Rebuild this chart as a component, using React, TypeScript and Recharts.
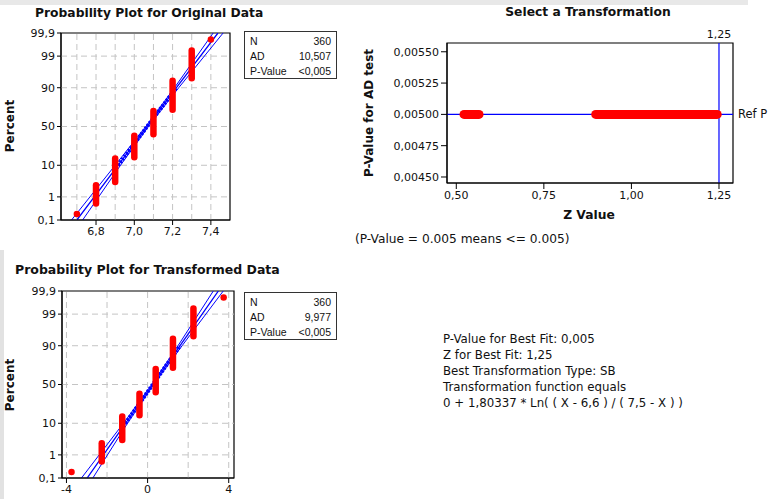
import React from 'react'
import { ComposedChart, Line, XAxis, YAxis, ReferenceLine, ReferenceArea } from 'recharts'

// distinct values in the sample (recorded to 0.1) and the same values after the SB transform
const origValues = [6.7, 6.8, 6.9, 7.0, 7.1, 7.2, 7.3, 7.4]
const transValues = [-3.75, -2.26, -1.25, -0.4, 0.4, 1.25, 2.26, 3.75]
// lowest / highest plotting position (percent) of each stack of tied points
const stackLow = [0.19, 0.55, 3.3, 15.5, 40, 71, 94.5, 99.8]
const stackHigh = [0.19, 2.6, 14.5, 38, 69.5, 93.5, 99.4, 99.8]

// fitted normal line and its confidence band, read at these percents
const fitPct = [0.1, 10, 50, 90, 99.9]
const origFit = [6.7, 6.915, 7.067, 7.22, 7.437]
const origLower = [6.672, 6.9, 7.06, 7.21, 7.412]
const origUpper = [6.73, 6.928, 7.074, 7.232, 7.464]
const transFit = [-2.98, -1.09, 0.255, 1.6, 3.49]
const transLower = [-3.26, -1.19, 0.205, 1.5, 3.24]
const transUpper = [-2.7, -0.99, 0.305, 1.7, 3.73]

const pctTicks = [0.1, 1, 10, 50, 90, 99, 99.9]
const pctGrid = [1, 10, 50, 90, 99]
const origTicks = [6.8, 7.0, 7.2, 7.4]
const origGrid = [6.7, 6.8, 6.9, 7.0, 7.1, 7.2, 7.3, 7.4]
const transTicks = [-4, 0, 4]
const transGrid = [-4, -2, 0, 2, 4]

// Z values whose AD p-value sits at the 0.005 floor
const zRanges = [[0.522, 0.565], [0.898, 1.245]]
const refP = 0.005
const bestZ = 1.25
const zTicks = [0.5, 0.75, 1.0, 1.25]
const pTicks = [0.0045, 0.00475, 0.005, 0.00525, 0.0055]

// inverse normal cdf (Acklam), used for the probability scale
function probit(p: number) {
  const a = [-39.69683028665376, 220.9460984245205, -275.9285104469687, 138.357751867269, -30.66479806614716, 2.506628277459239]
  const b = [-54.47609879822406, 161.5858368580409, -155.6989798598866, 66.80131188771972, -13.28068155288572]
  const c = [-0.007784894002430293, -0.3223964580411365, -2.400758277161838, -2.549732539343734, 4.374664141464968, 2.938163982698783]
  const d = [0.007784695709041462, 0.3224671290700398, 2.445134137142996, 3.754408661907416]
  const pl = 0.02425
  if (p < pl) {
    const q = Math.sqrt(-2 * Math.log(p))
    return (((((c[0] * q + c[1]) * q + c[2]) * q + c[3]) * q + c[4]) * q + c[5]) / ((((d[0] * q + d[1]) * q + d[2]) * q + d[3]) * q + 1)
  }
  if (p > 1 - pl) {
    const q = Math.sqrt(-2 * Math.log(1 - p))
    return -(((((c[0] * q + c[1]) * q + c[2]) * q + c[3]) * q + c[4]) * q + c[5]) / ((((d[0] * q + d[1]) * q + d[2]) * q + d[3]) * q + 1)
  }
  const q = p - 0.5
  const r = q * q
  return (((((a[0] * r + a[1]) * r + a[2]) * r + a[3]) * r + a[4]) * r + a[5]) * q / (((((b[0] * r + b[1]) * r + b[2]) * r + b[3]) * r + b[4]) * r + 1)
}
const zOf = (pct: number) => probit(pct / 100)
const comma = (s: string) => s.replace('.', ',')

const FONT = '"DejaVu Sans", Verdana, sans-serif'
const BLUE = '#0000ff'
const RED = '#ff0000'
const tickStyle = { fontSize: 11, fill: '#111', fontFamily: FONT }

interface ProbPlotProps {
  left: number
  top: number
  width: number
  height: number
  margin: { top: number; right: number; bottom: number; left: number }
  xDomain: [number, number]
  xTicks: number[]
  xGrid: number[]
  xFormat: (v: number) => string
  xs: number[]
  fit: number[]
  lower: number[]
  upper: number[]
}

function ProbPlot(p: ProbPlotProps) {
  const yDomain: [number, number] = [zOf(0.1), zOf(99.9)]
  const pctLabel = (v: number) => {
    const hit = pctTicks.find((t) => Math.abs(zOf(t) - v) < 1e-6)
    return hit === undefined ? '' : comma(String(hit))
  }
  const band = (xs: number[]) => fitPct.map((pc, i) => ({ x: xs[i], y: zOf(pc) }))
  return (
    <div style={{ position: 'absolute', left: p.left, top: p.top }}>
      <ComposedChart width={p.width} height={p.height} margin={p.margin}>
        <XAxis
          type="number"
          dataKey="x"
          domain={p.xDomain}
          allowDataOverflow
          ticks={p.xTicks}
          interval={0}
          tickFormatter={p.xFormat}
          tick={tickStyle}
          tickSize={5}
          height={20}
          stroke="#000"
        />
        <YAxis
          type="number"
          dataKey="y"
          domain={yDomain}
          allowDataOverflow
          ticks={pctTicks.map(zOf)}
          interval={0}
          tickFormatter={pctLabel}
          tick={tickStyle}
          tickSize={4}
          width={40}
          stroke="#000"
        />
        {p.xGrid.map((g) => (
          <ReferenceLine key={'gx' + g} x={g} stroke="#c4c4c4" strokeDasharray="6 4" />
        ))}
        {pctGrid.map((g) => (
          <ReferenceLine key={'gy' + g} y={zOf(g)} stroke="#c4c4c4" strokeDasharray="6 4" />
        ))}
        <Line data={band(p.lower)} dataKey="y" stroke={BLUE} strokeWidth={1} dot={false} isAnimationActive={false} />
        <Line data={band(p.upper)} dataKey="y" stroke={BLUE} strokeWidth={1} dot={false} isAnimationActive={false} />
        <Line data={band(p.fit)} dataKey="y" stroke={BLUE} strokeWidth={1.3} dot={false} isAnimationActive={false} />
        <Line data={band(p.fit).slice(1, 4)} dataKey="y" stroke={BLUE} strokeWidth={4} strokeDasharray="2 1.5" dot={false} isAnimationActive={false} />
        {p.xs.map((x, i) => (
          <Line
            key={'s' + i}
            data={[
              { x, y: zOf(stackLow[i]) },
              { x, y: zOf(stackHigh[i]) + 1e-4 },
            ]}
            dataKey="y"
            stroke={RED}
            strokeWidth={6.5}
            strokeLinecap="round"
            dot={false}
            isAnimationActive={false}
          />
        ))}
        <ReferenceArea x1={p.xDomain[0]} x2={p.xDomain[1]} y1={yDomain[0]} y2={yDomain[1]} fill="none" fillOpacity={0} stroke="#000" strokeWidth={1.2} />
      </ComposedChart>
    </div>
  )
}

function StatsBox({ left, top, ad }: { left: number; top: number; ad: string }) {
  const row = { display: 'flex', justifyContent: 'space-between', height: 15, lineHeight: '15px' }
  return (
    <div
      style={{
        position: 'absolute',
        left,
        top,
        width: 93,
        height: 48,
        border: '1.5px solid #333',
        padding: '2px 5px 0 5px',
        boxSizing: 'border-box',
        fontFamily: '"Liberation Sans", Arial, sans-serif',
        fontSize: 10.5,
        color: '#111',
      }}
    >
      <div style={row}><span>N</span><span>360</span></div>
      <div style={row}><span>AD</span><span>{ad}</span></div>
      <div style={row}><span>P-Value</span><span>&lt;0,005</span></div>
    </div>
  )
}

function Label({ x, y, text, bold, size, rotate, anchor }: { x: number; y: number; text: string; bold?: boolean; size: number; rotate?: boolean; anchor?: 'start' | 'middle' }) {
  const tx = anchor === 'start' ? '0' : '-50%'
  return (
    <div
      style={{
        position: 'absolute',
        left: x,
        top: y,
        transform: `translate(${tx}, -50%)${rotate ? ' rotate(-90deg)' : ''}`,
        transformOrigin: anchor === 'start' ? 'left center' : 'center center',
        whiteSpace: 'nowrap',
        fontFamily: FONT,
        fontWeight: bold ? 'bold' : 'normal',
        fontSize: size,
        color: '#111',
        lineHeight: 1,
      }}
    >
      {text}
    </div>
  )
}

function TransformPlot() {
  const segs = zRanges.map(([a, b]) => [
    { x: a, y: refP },
    { x: b, y: refP },
  ])
  return (
    <div style={{ position: 'absolute', left: 370, top: 0 }}>
      <ComposedChart width={400} height={230} margin={{ top: 43, right: 37, bottom: 27, left: 17 }}>
        <XAxis
          type="number"
          dataKey="x"
          domain={[0.4735, 1.29]}
          allowDataOverflow
          ticks={zTicks}
          interval={0}
          tickFormatter={(v: number) => comma(v.toFixed(2))}
          tick={tickStyle}
          tickSize={6}
          height={20}
          stroke="#000"
        />
        <YAxis
          type="number"
          dataKey="y"
          domain={[0.004452, 0.00557]}
          allowDataOverflow
          ticks={pTicks}
          interval={0}
          tickFormatter={(v: number) => comma(v.toFixed(5))}
          tick={tickStyle}
          tickSize={6}
          width={60}
          stroke="#000"
        />
        <ReferenceLine y={refP} stroke={BLUE} strokeWidth={1.2} label={{ value: 'Ref P', position: 'right', fill: '#111', fontSize: 11.5, fontFamily: FONT }} />
        <ReferenceLine x={bestZ} stroke={BLUE} strokeWidth={1.2} label={{ value: '1,25', position: 'top', fill: '#111', fontSize: 11, fontFamily: FONT }} />
        {segs.map((s, i) => (
          <Line key={'z' + i} data={s} dataKey="y" stroke={RED} strokeWidth={9} strokeLinecap="round" dot={false} isAnimationActive={false} />
        ))}
        <ReferenceArea x1={0.4735} x2={1.29} y1={0.004452} y2={0.00557} fill="none" fillOpacity={0} stroke="#000" strokeWidth={1.2} />
      </ComposedChart>
    </div>
  )
}

export default function App() {
  return (
    <div style={{ position: 'absolute', left: 0, top: 0, width: 772, height: 499, background: '#fff', overflow: 'hidden' }}>
      <div style={{ position: 'absolute', left: 0, top: 0, width: 748, height: 5, background: '#e8e8e8' }} />
      <div style={{ position: 'absolute', left: 0, top: 250, width: 4, height: 249, background: '#e2e2e2' }} />

      <ProbPlot
        left={0}
        top={0}
        width={240}
        height={250}
        margin={{ top: 33, right: 10, bottom: 10, left: 21 }}
        xDomain={[6.617, 7.5]}
        xTicks={origTicks}
        xGrid={origGrid}
        xFormat={(v) => comma(v.toFixed(1))}
        xs={origValues}
        fit={origFit}
        lower={origLower}
        upper={origUpper}
      />
      <ProbPlot
        left={0}
        top={260}
        width={244}
        height={239}
        margin={{ top: 31, right: 10, bottom: 1, left: 22 }}
        xDomain={[-4.22, 4.26]}
        xTicks={transTicks}
        xGrid={transGrid}
        xFormat={(v) => String(v)}
        xs={transValues}
        fit={transFit}
        lower={transLower}
        upper={transUpper}
      />
      <TransformPlot />

      <StatsBox left={244} top={31} ad="10,507" />
      <StatsBox left={244} top={292} ad="9,977" />

      <Label x={35} y={13} text="Probability Plot for Original Data" bold size={12.3} anchor="start" />
      <Label x={15} y={270} text="Probability Plot for Transformed Data" bold size={12.5} anchor="start" />
      <Label x={588} y={12} text="Select a Transformation" bold size={12.3} />
      <Label x={10} y={126} text="Percent" bold size={12} rotate />
      <Label x={10} y={385} text="Percent" bold size={12} rotate />
      <Label x={369} y={113} text="P-Value for AD test" bold size={12} rotate />
      <Label x={589} y={215} text="Z Value" bold size={12.3} />
      <Label x={355} y={239} text="(P-Value = 0.005 means <= 0.005)" size={12.2} anchor="start" />

      <div style={{ position: 'absolute', left: 443, top: 331, fontFamily: FONT, fontSize: 11.8, lineHeight: '16px', color: '#111' }}>
        <div>P-Value for Best Fit: 0,005</div>
        <div>Z for Best Fit: 1,25</div>
        <div>Best Transformation Type: SB</div>
        <div>Transformation function equals</div>
        <div>0 + 1,80337 * Ln( ( X - 6,6 ) / ( 7,5 - X ) )</div>
      </div>
    </div>
  )
}
